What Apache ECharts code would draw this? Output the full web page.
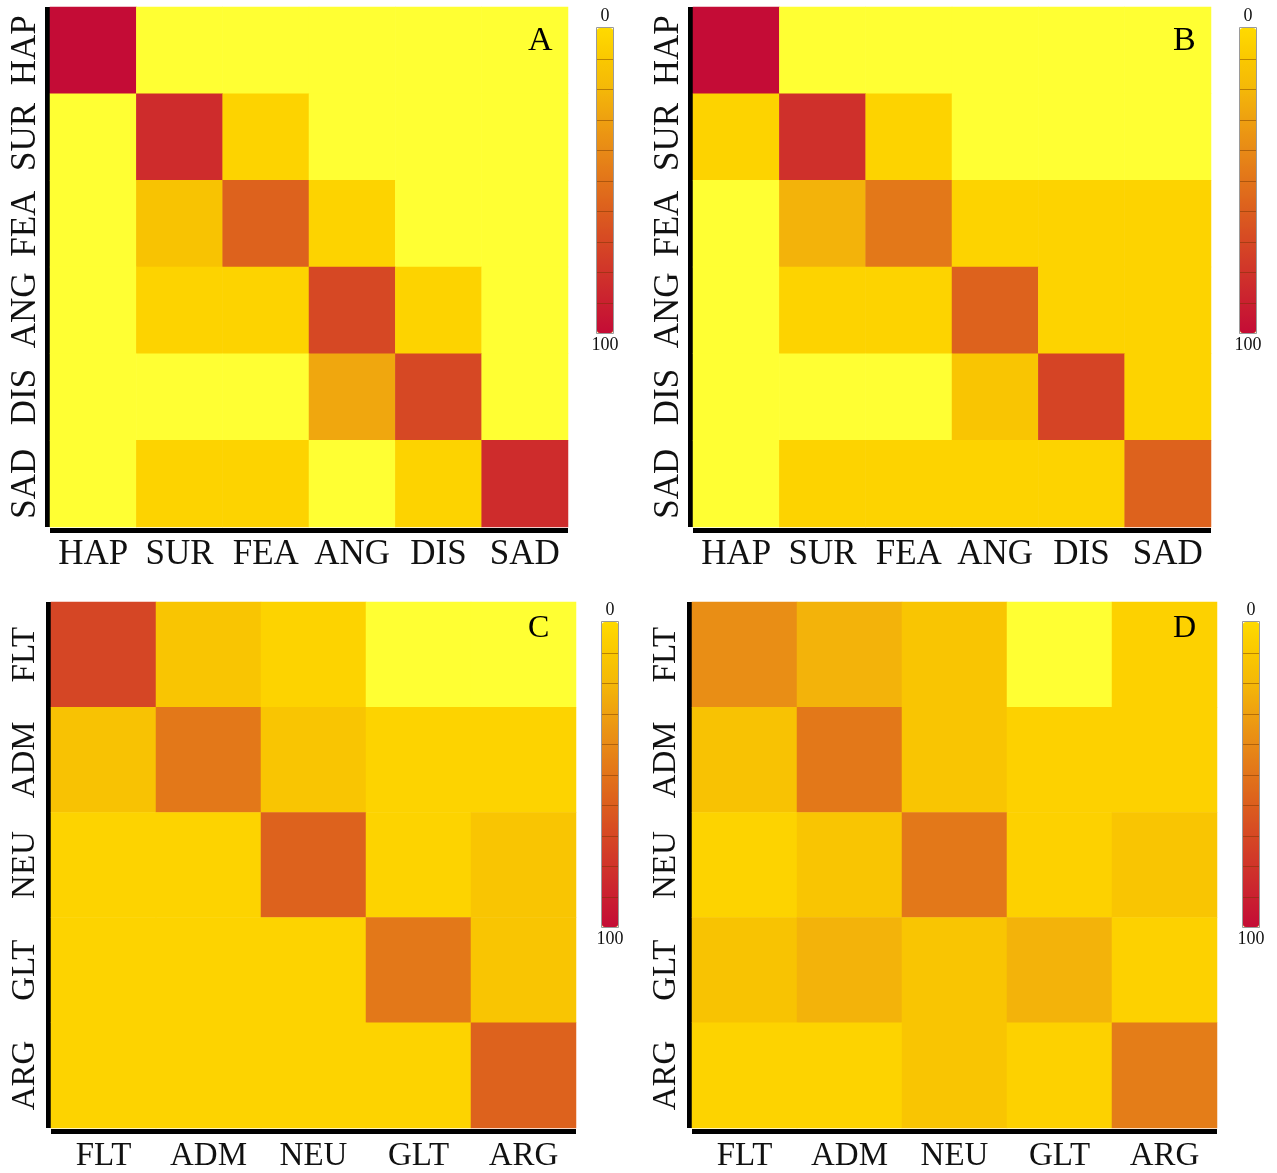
<!DOCTYPE html>
<html>
<head>
<meta charset="utf-8">
<title>Confusion matrices</title>
<script src="https://cdn.jsdelivr.net/npm/echarts@6/dist/echarts.min.js"></script>
<style>
  html, body { margin: 0; padding: 0; background: #fff; }
  #main { width: 1277px; height: 1173px; }
</style>
</head>
<body>
<div id="main"></div>
<script>
// category labels
var emoCats = ['HAP', 'SUR', 'FEA', 'ANG', 'DIS', 'SAD'];
var attCats = ['FLT', 'ADM', 'NEU', 'GLT', 'ARG'];

// recognition rates in %, rows = true class (top to bottom), cols = predicted
var matA = [
  [100, 0, 0, 0, 0, 0],
  [0, 84, 4, 0, 0, 0],
  [0, 13, 58, 4, 0, 0],
  [0, 4, 4, 70, 4, 0],
  [0, 0, 0, 27, 70, 0],
  [0, 4, 4, 0, 4, 84]
];
var matB = [
  [100, 0, 0, 0, 0, 0],
  [4, 82, 4, 0, 0, 0],
  [0, 22, 48, 4, 4, 4],
  [0, 4, 4, 58, 4, 4],
  [0, 0, 0, 12, 72, 4],
  [0, 4, 4, 4, 4, 58]
];
var matC = [
  [71, 12, 4, 0, 0],
  [14, 48, 12, 4, 4],
  [4, 4, 58, 4, 12],
  [4, 4, 4, 48, 12],
  [4, 4, 4, 4, 58]
];
var matD = [
  [38, 22, 12, 0, 5],
  [14, 48, 12, 5, 5],
  [4, 12, 48, 5, 12],
  [13, 22, 12, 22, 5],
  [4, 4, 12, 5, 46]
];
var panelNames = ['A', 'B', 'C', 'D'];
var barTicks = ['100', '0'];

var rampColors = ['#FFDA00', '#FAC800', '#F4B808', '#EEA010', '#E88A16', '#E2741A',
                  '#DC5E1E', '#D64824', '#D0342A', '#CA2030', '#C40C36'];
var zeroColor = '#FFFF33';
var serif = "'Liberation Serif', 'Times New Roman', serif";

// layout of the four panels
var barW = 16, barH = 305;
var panels = [
  {mat: matA, cats: emoCats, grid: [50, 7, 518, 520], bar: [597, 28], fs: 35, ym: 4, xm: 7, tag: [528, 24]},
  {mat: matB, cats: emoCats, grid: [693, 7, 518, 520], bar: [1240, 28], fs: 35, ym: 4, xm: 7, tag: [1173, 24]},
  {mat: matC, cats: attCats, grid: [51, 602, 525, 526], bar: [602, 622], fs: 33, ym: 6, xm: 9, tag: [528, 613]},
  {mat: matD, cats: attCats, grid: [692, 602, 525, 526], bar: [1243, 622], fs: 33, ym: 6, xm: 9, tag: [1173, 613]}
];

function toCells(mat) {
  var out = [];
  for (var r = 0; r < mat.length; r++) {
    for (var c = 0; c < mat[r].length; c++) {
      out.push([c, r, mat[r][c]]);
    }
  }
  return out;
}

var grids = [], xAxes = [], yAxes = [], series = [], vmaps = [], titles = [], decor = [];
panels.forEach(function (p, i) {
  grids.push({left: p.grid[0], top: p.grid[1], width: p.grid[2], height: p.grid[3], containLabel: false});
  xAxes.push({
    type: 'category', gridIndex: i, data: p.cats, position: 'bottom', offset: 3,
    axisLine: {lineStyle: {color: '#000', width: 5, cap: 'butt'}},
    axisTick: {show: false}, splitLine: {show: false}, splitArea: {show: false},
    axisLabel: {interval: 0, fontFamily: serif, fontSize: p.fs, color: '#111', margin: p.xm}
  });
  yAxes.push({
    type: 'category', gridIndex: i, data: p.cats, inverse: true, offset: 3,
    axisLine: {lineStyle: {color: '#000', width: 5, cap: 'butt'}},
    axisTick: {show: false}, splitLine: {show: false}, splitArea: {show: false},
    axisLabel: {interval: 0, fontFamily: serif, fontSize: p.fs, color: '#111', margin: p.ym, rotate: 90}
  });
  series.push({
    type: 'heatmap', xAxisIndex: i, yAxisIndex: i, data: toCells(p.mat),
    itemStyle: {borderWidth: 0},
    emphasis: {disabled: true}
  });
  vmaps.push({
    type: 'continuous', seriesIndex: i, min: 0, max: 100, range: [0.5, 100],
    calculable: false, inverse: true, orient: 'vertical',
    itemWidth: barW, itemHeight: barH, padding: 0, textGap: 3,
    text: barTicks,
    textStyle: {fontFamily: serif, fontSize: 18, color: '#111'},
    left: p.bar[0] + barW / 2 - 13.5, top: p.bar[1] - 3 - 18,
    inRange: {color: rampColors},
    outOfRange: {color: zeroColor},
    controller: {inRange: {color: rampColors}, outOfRange: {color: rampColors[0]}}
  });
  titles.push({
    text: panelNames[i], left: p.tag[0], top: p.tag[1], padding: 0,
    textStyle: {fontFamily: serif, fontSize: p.fs - 1, fontWeight: 'normal', color: '#000'}
  });
  // thin frame and band separators on the colour bar
  decor.push({
    type: 'rect', z: 100, silent: true,
    shape: {x: p.bar[0] - 0.5, y: p.bar[1] - 0.5, width: barW + 1, height: barH + 1},
    style: {fill: 'none', stroke: '#9a9a9a', lineWidth: 1}
  });
  for (var k = 1; k < 10; k++) {
    var yy = Math.round(p.bar[1] + barH * k / 10) + 0.5;
    decor.push({
      type: 'line', z: 100, silent: true,
      shape: {x1: p.bar[0], y1: yy, x2: p.bar[0] + barW, y2: yy},
      style: {stroke: 'rgba(110,50,0,0.45)', lineWidth: 1}
    });
  }
});

var myChart = echarts.init(document.getElementById('main'));
var option = {
  backgroundColor: '#fff',
  animation: false,
  title: titles,
  grid: grids,
  xAxis: xAxes,
  yAxis: yAxes,
  visualMap: vmaps,
  series: series,
  graphic: decor
};
myChart.setOption(option);
</script>
</body>
</html>
